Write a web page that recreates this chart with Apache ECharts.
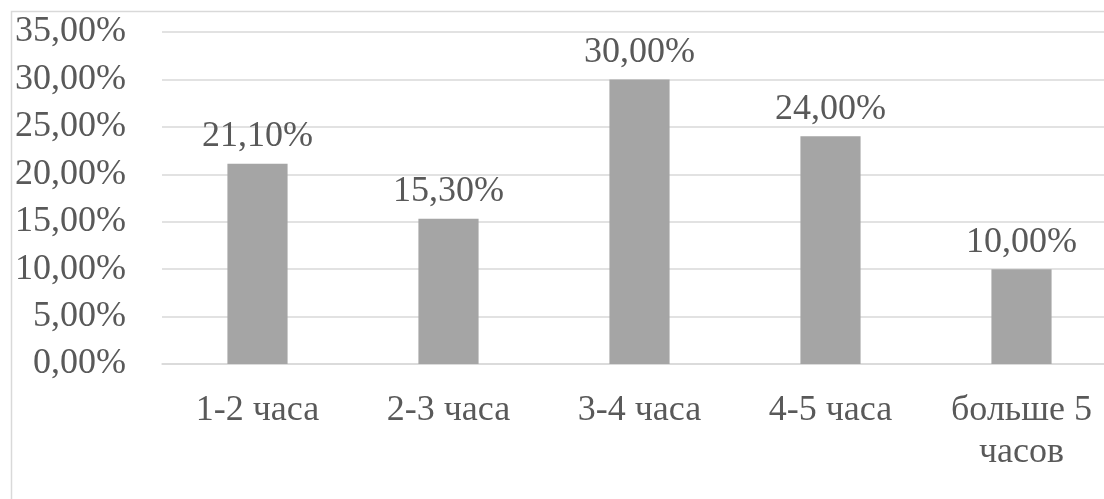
<!DOCTYPE html>
<html>
<head>
<meta charset="utf-8">
<script src="https://cdn.jsdelivr.net/npm/echarts@6/dist/echarts.min.js"></script>
<style>
  html, body { margin: 0; padding: 0; background: #fff; overflow: hidden; width: 1104px; height: 499px; }
  #chart { width: 1120px; height: 499px; }
</style>
</head>
<body>
<div id="chart"></div>
<script>
// Time spent, share of respondents (%)
const categories = ['1-2 часа', '2-3 часа', '3-4 часа', '4-5 часа', 'больше 5 часов'];
const shares = [21.1, 15.3, 30.0, 24.0, 10.0];

const fmtPct = v => v.toFixed(2).replace('.', ',') + '%';
const FONT = '"Liberation Serif", "Times New Roman", serif';
const TEXT = '#595959';

const chart = echarts.init(document.getElementById('chart'));
chart.setOption({
  animation: false,
  backgroundColor: '#fff',
  graphic: [{
    type: 'rect',
    shape: { x: 11.5, y: 11.5, width: 1200, height: 600 },
    style: { fill: 'none', stroke: '#D9D9D9', lineWidth: 1.5 },
    silent: true
  }],
  grid: { left: 162, right: 3, top: 32, bottom: 135, containLabel: false },
  xAxis: {
    type: 'category',
    data: categories,
    axisLine: { show: true, lineStyle: { color: '#D9D9D9', width: 1.5 } },
    axisTick: { show: false },
    axisLabel: {
      color: TEXT, fontFamily: FONT, fontSize: 36, margin: 26, lineHeight: 42,
      interval: 0,
      formatter: v => v.replace(' 5 ', ' 5\n')
    }
  },
  yAxis: {
    type: 'value',
    min: 0, max: 35, interval: 5,
    axisLine: { show: false },
    axisTick: { show: false },
    splitLine: { lineStyle: { color: '#D9D9D9', width: 1.5 } },
    axisLabel: { color: TEXT, fontFamily: FONT, fontSize: 36, margin: 36, formatter: fmtPct }
  },
  series: [{
    type: 'bar',
    data: shares,
    barWidth: '31.5%',
    itemStyle: { color: '#A5A5A5' },
    label: {
      show: true, position: 'top', distance: 9,
      color: TEXT, fontFamily: FONT, fontSize: 36,
      formatter: p => fmtPct(p.value)
    }
  }]
});
</script>
</body>
</html>
